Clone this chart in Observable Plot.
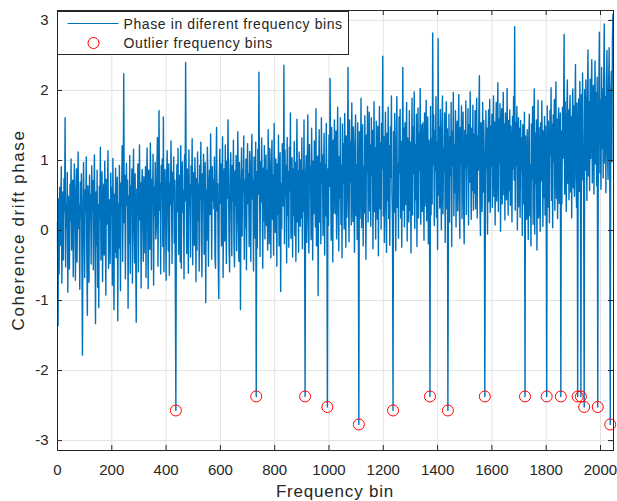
<!DOCTYPE html>
<html>
<head>
<meta charset="utf-8">
<script src="https://cdn.jsdelivr.net/npm/d3@7"></script>
<script src="https://cdn.jsdelivr.net/npm/@observablehq/plot@0.6"></script>
<style>
  html, body { margin: 0; padding: 0; background: #fff; }
  #chart { width: 617px; height: 501px; }
</style>
</head>
<body>
<div id="chart"></div>
<script>
// ---- data ----
const binStep = 2; // phase values sampled every 2 frequency bins, starting at bin 0
const phase = [
  0.12,-1.36,0.45,-0.62,0.62,-0.21,0.33,0.91,-0.75,0.18,0.55,-0.42,0.74,0.27,1.61,-0.52,0.38,0.05,0.83,-0.88,0.49,0.21,-0.55,0.66,0.14,1.02,-0.28,0.41,0.72,-0.66,0.31,0.95,
  0.52,-0.71,0.24,0.88,-0.45,0.47,1.12,0.03,0.36,-0.84,0.69,0.19,0.81,-0.52,-1.78,0.43,0.97,0.11,-0.67,0.58,0.26,1.05,-0.39,-1.21,0.64,0.32,-0.74,0.79,0.15,0.51,-0.48,0.92,
  0.28,0.71,-0.56,0.46,1.08,0.02,-1.33,0.55,-0.22,0.86,-0.81,0.37,-1.10,0.63,0.17,1.19,-0.42,0.48,0.84,-0.73,0.29,0.66,-0.35,0.99,0.41,-0.92,0.73,0.09,0.57,1.14,-0.54,0.35,
  0.44,-0.47,0.82,0.25,0.61,-0.78,1.03,0.14,-1.13,0.52,-0.31,0.89,-0.39,0.47,0.76,-1.29,0.38,-0.25,0.93,0.22,-0.86,0.68,0.35,1.21,-0.44,0.57,2.24,0.11,0.79,-0.69,0.43,0.96,
  0.36,0.72,-1.11,0.49,-0.18,1.07,-0.61,0.63,0.34,0.88,-0.75,0.55,1.16,0.07,-0.46,0.81,-0.38,-1.31,0.59,0.27,0.95,-0.59,0.42,1.22,0.15,0.68,-0.82,0.51,0.87,0.24,-0.44,0.77,
  0.53,-0.32,0.91,-0.67,0.64,1.18,0.31,-0.83,0.86,0.44,-0.27,1.25,0.58,-0.56,0.73,0.39,1.09,-0.78,0.62,0.21,0.97,-0.12,0.03,0.84,1.33,-0.51,0.56,1.71,0.29,0.67,-0.62,0.93,
  0.61,1.02,-0.23,1.62,-0.59,0.54,0.87,0.33,-0.71,0.76,1.14,0.41,-0.29,0.95,-0.64,0.68,0.37,1.28,0.52,-0.47,0.83,0.46,1.05,-0.18,0.72,-0.76,-2.57,0.59,0.94,0.27,1.17,-0.34,
  0.08,0.79,-0.45,1.21,-0.54,0.63,0.98,0.26,0.57,-0.69,1.08,0.42,2.40,0.71,-0.33,0.88,0.49,-0.61,1.15,0.36,0.65,-0.38,0.92,0.54,1.31,-0.49,0.47,0.83,-0.21,1.04,0.61,-0.73,
  0.74,-0.28,1.12,0.15,0.66,-0.58,0.93,0.45,1.26,-0.19,-0.66,0.81,0.52,1.09,-0.34,0.69,0.97,-1.03,0.58,-0.14,1.19,0.77,-0.51,0.48,0.86,0.23,1.38,0.62,-0.41,0.91,0.43,0.72,
  0.31,1.05,-0.36,-0.54,0.84,1.47,0.28,0.67,-0.42,-0.97,0.73,1.16,0.39,0.95,-0.22,0.61,1.34,-0.67,0.52,0.88,-0.15,1.22,0.64,-0.47,0.99,0.46,1.58,0.71,-0.27,-0.59,0.82,1.11,
  0.57,-0.36,0.93,0.42,1.29,-0.18,-0.52,0.85,0.36,1.07,-0.29,0.21,1.41,0.76,-0.44,0.97,0.49,-1.13,0.63,1.18,-0.08,0.87,0.55,1.35,-0.41,0.72,0.04,1.02,-0.56,0.66,1.24,0.38,
  0.81,-0.23,1.13,0.58,-0.44,0.94,1.37,0.45,0.72,-0.58,1.05,0.63,-0.11,1.26,-2.37,0.84,-0.25,1.16,0.52,2.26,0.77,-0.37,0.98,0.41,1.32,0.66,-0.54,0.89,0.14,1.21,-0.12,0.75,
  1.08,0.07,0.86,-0.28,1.44,0.69,-0.19,1.17,0.58,-0.39,0.93,1.29,0.16,0.79,-0.35,1.53,0.64,-0.03,1.02,0.81,-0.51,0.95,0.23,1.36,-0.22,0.74,1.11,-0.87,0.67,0.03,1.24,0.89,
  0.35,2.36,-0.19,1.15,0.49,0.92,-0.46,1.33,0.22,0.84,-0.24,1.19,0.57,1.68,-0.11,0.76,1.04,-0.38,0.88,0.21,1.27,-0.07,0.97,-0.44,0.73,1.59,0.12,0.85,-0.31,1.12,0.68,0.06,
  1.01,0.18,1.32,-0.26,0.86,0.27,1.58,0.01,-2.37,0.79,1.07,-0.17,0.94,1.65,0.16,-0.32,1.23,0.72,0.91,-0.13,1.46,0.63,-0.42,0.99,0.24,1.28,0.81,0.05,1.74,-0.22,0.77,1.06,
  -0.93,0.87,1.44,0.12,0.96,-0.19,1.61,0.69,1.08,-0.07,0.82,1.39,-0.35,0.94,0.21,1.53,0.74,-2.52,0.88,0.07,1.36,0.63,2.17,0.92,-0.14,1.47,0.71,-0.45,1.29,0.25,1.58,0.83,
  0.24,1.42,-0.12,0.97,1.76,0.32,-0.29,1.05,0.46,1.61,0.09,0.93,-0.39,1.52,0.67,1.24,0.02,1.67,0.78,-0.24,1.35,0.19,0.95,2.33,0.41,-0.16,1.58,0.69,1.27,0.08,1.82,0.87,
  0.13,1.48,0.76,-0.31,1.23,1.65,0.21,0.94,-0.13,1.54,0.42,-2.77,1.41,0.17,0.98,1.89,0.04,0.86,1.51,-0.22,0.91,0.25,1.64,0.73,-0.41,1.36,0.83,1.77,0.12,0.97,1.69,0.28,
  1.22,0.06,1.61,0.79,1.43,-0.26,0.92,1.84,0.27,1.18,-0.12,1.56,0.85,0.16,1.49,-0.36,0.97,1.77,0.31,1.25,0.02,1.53,0.88,2.49,0.21,1.34,-0.17,0.96,1.69,0.34,-0.31,1.39,
  0.43,1.76,0.17,1.21,-0.21,1.48,0.76,1.92,0.54,0.08,-2.57,1.41,0.26,1.67,0.87,-0.29,1.24,1.91,0.33,0.95,-0.11,1.62,0.82,1.73,0.18,1.27,-0.24,0.91,2.33,0.29,1.46,0.05,
  1.54,0.37,0.98,1.83,-0.15,1.32,0.84,0.12,1.71,0.29,1.26,-0.32,0.93,1.89,0.22,1.47,0.81,1.98,0.03,1.22,0.44,1.66,-0.23,0.96,1.75,0.18,1.39,0.86,2.03,0.09,0.92,1.51,
  0.27,1.54,0.89,-0.14,1.68,0.35,1.23,1.86,0.14,0.97,1.62,-0.19,1.29,0.83,-2.37,1.77,0.22,1.31,0.38,2.82,0.94,1.65,0.07,1.43,0.86,1.91,0.19,1.26,-0.27,2.74,0.51,1.48,
  0.32,1.73,0.96,0.01,1.49,1.92,0.24,1.17,0.85,1.68,-0.17,0.99,1.84,0.31,1.45,-2.57,0.48,1.66,0.12,1.34,0.79,1.83,-0.23,1.41,0.93,1.97,0.21,1.22,0.54,1.71,0.05,1.37,
  1.56,0.28,1.29,1.94,0.43,-0.11,1.47,0.95,1.78,0.17,1.22,1.69,0.34,-0.19,1.43,0.88,1.85,0.23,1.36,0.92,1.74,0.08,1.51,0.69,1.98,1.01,0.16,1.46,0.57,1.79,0.29,1.38,
  0.54,1.71,0.31,1.48,1.89,0.18,1.35,0.86,1.67,2.21,0.39,-0.07,1.54,1.12,0.27,1.83,0.55,1.57,1.08,-2.37,0.22,1.71,0.89,1.46,-0.05,1.33,1.72,0.41,1.87,0.26,1.49,0.92,
  1.66,0.33,1.41,1.92,0.49,1.55,0.08,1.24,1.83,0.42,1.47,2.11,0.27,1.59,0.96,1.81,-0.01,1.33,1.74,0.38,1.26,1.97,0.51,1.52,0.15,1.68,1.01,0.44,2.03,1.24,0.22,1.57,
  0.57,1.72,0.36,1.49,1.05,0.12,1.63,0.88,1.91,0.72,2.91,0.29,1.54,0.93,1.77,0.01,1.28,1.61,0.34,1.46,0.19,1.57,0.86,1.32,-0.07,1.51,0.38,1.12,1.69,-2.37,1.35,0.51,
  0.16,1.44,0.82,-0.13,1.35,1.66,0.21,0.93,-0.22,1.52,0.74,1.77,0.09,0.88,2.02,-0.05,1.39,0.67,1.58,-0.28,0.95,1.86,0.18,1.47,0.81,-0.01,1.54,0.71,1.85,0.94,0.06,1.42,
  0.47,1.63,0.22,1.49,1.04,-2.37,1.78,0.33,1.56,0.96,0.11,1.71,1.08,2.04,0.43,1.52,0.04,1.65,0.98,1.87,0.29,1.43,2.12,0.46,1.59,0.17,1.47,1.75,0.39,1.26,1.68,-2.37,
  1.42,0.38,1.76,1.03,1.61,2.80,0.52,1.84,1.19,0.27,1.68,2.15,0.67,1.72,0.44,1.57,1.93,0.55,1.63,0.18,1.51,2.02,0.61,1.78,0.49,1.66,2.37,0.74,0.33,1.82,-2.37,1.25,
  1.88,0.56,2.13,1.27,-2.37,1.94,0.72,2.25,1.39,0.48,-2.52,2.01,0.86,2.15,1.47,0.43,1.92,2.58,0.78,1.84,0.57,2.16,1.03,1.99,2.44,0.68,1.81,2.07,0.52,1.73,2.42,0.95,
  1.97,0.64,2.19,-2.52,1.11,2.08,2.83,0.82,1.86,0.59,2.33,1.17,2.02,0.75,2.23,2.95,0.96,1.91,0.54,2.14,2.57,1.09,0.73,2.06,2.61,0.89,-2.77,1.98,2.27,0.98,2.72,3.09
];
const outlierBins = [436, 732, 912, 994, 1110, 1236, 1372, 1438, 1574, 1722, 1802, 1854, 1916, 1928, 1940, 1990, 2036];
const xTicks = [0, 200, 400, 600, 800, 1000, 1200, 1400, 1600, 1800, 2000];
const yTicks = [-3, -2, -1, 0, 1, 2, 3];
const xLabel = "Frequency bin";
const yLabel = "Coherence drift phase";
const seriesName = "Phase in diferent frequency bins";
const outlierName = "Outlier frequency bins";

// ---- tables ----
const series = phase.map((v, i) => ({bin: i * binStep, phase: v}));
const outliers = outlierBins.map(b => ({bin: b, phase: phase[b / binStep]}));

// ---- layout ----
const W = 617, H = 501;
const mL = 57, mR = 4, mT = 10, mB = 51;
const iw = W - mL - mR, ih = H - mT - mB;
const ink = "#262626";
const blue = "#0072BD";
const red = "#FF0000";
const font = '"Liberation Sans", Arial, Helvetica, sans-serif';

const chart = Plot.plot({
  width: W, height: H,
  marginLeft: mL, marginRight: mR, marginTop: mT, marginBottom: mB,
  style: {fontFamily: font, fontSize: "15px", color: ink, background: "#fff", overflow: "visible"},
  x: {domain: [0, 2048], ticks: xTicks, label: null},
  y: {domain: [-Math.PI, Math.PI], ticks: yTicks, label: null},
  marks: [
    Plot.gridX(xTicks, {stroke: "#e3e3e3", strokeOpacity: 1}),
    Plot.gridY(yTicks, {stroke: "#e3e3e3", strokeOpacity: 1}),
    Plot.lineY(series, {x: "bin", y: "phase", stroke: blue, strokeWidth: 1.4}),
    Plot.dot(outliers, {x: "bin", y: "phase", r: 5.5, stroke: red, strokeWidth: 1, fill: "none"}),
    // inward tick marks on all four sides
    Plot.ruleX(xTicks, {x: d => d, insetTop: ih - 5, stroke: ink}),
    Plot.ruleX(xTicks, {x: d => d, insetBottom: ih - 5, stroke: ink}),
    Plot.ruleY(yTicks, {y: d => d, insetRight: iw - 5, stroke: ink}),
    Plot.ruleY(yTicks, {y: d => d, insetLeft: iw - 5, stroke: ink}),
    Plot.frame({stroke: ink}),
    Plot.axisX(xTicks, {tickSize: 0, tickPadding: 14, label: null, tickFormat: d => String(d), fill: ink, fontSize: 15, letterSpacing: 0.4}),
    Plot.axisY(yTicks, {tickSize: 0, tickPadding: 9, label: null, tickFormat: d => String(d), fill: ink, fontSize: 15})
  ]
});

document.getElementById("chart").appendChild(chart);

// axis titles and the in-axes legend
const svg = d3.select(chart);
svg.append("text")
  .attr("x", mL + iw / 2).attr("y", 497)
  .attr("text-anchor", "middle")
  .attr("font-family", font).attr("font-size", 17).attr("letter-spacing", 0.8)
  .attr("fill", ink).text(xLabel);
svg.append("text")
  .attr("transform", `translate(24,${mT + ih / 2}) rotate(-90)`)
  .attr("text-anchor", "middle")
  .attr("font-family", font).attr("font-size", 17).attr("letter-spacing", 1.6)
  .attr("fill", ink).text(yLabel);

const lg = svg.append("g").attr("transform", "translate(57.5,11.5)").attr("text-anchor", "start");
lg.append("rect").attr("width", 291).attr("height", 43).attr("fill", "#fff").attr("stroke", ink).attr("stroke-width", 1);
lg.append("line").attr("x1", 10).attr("x2", 61).attr("y1", 12).attr("y2", 12).attr("stroke", blue).attr("stroke-width", 1);
lg.append("circle").attr("cx", 36).attr("cy", 31.5).attr("r", 5.5).attr("fill", "none").attr("stroke", red).attr("stroke-width", 1);
lg.append("text").attr("x", 66).attr("y", 17.5).attr("text-anchor", "start").attr("font-family", font).attr("font-size", 14).attr("letter-spacing", 0.6).attr("fill", ink).text(seriesName);
lg.append("text").attr("x", 66).attr("y", 36.5).attr("text-anchor", "start").attr("font-family", font).attr("font-size", 14).attr("letter-spacing", 0.6).attr("fill", ink).text(outlierName);
</script>
</body>
</html>
